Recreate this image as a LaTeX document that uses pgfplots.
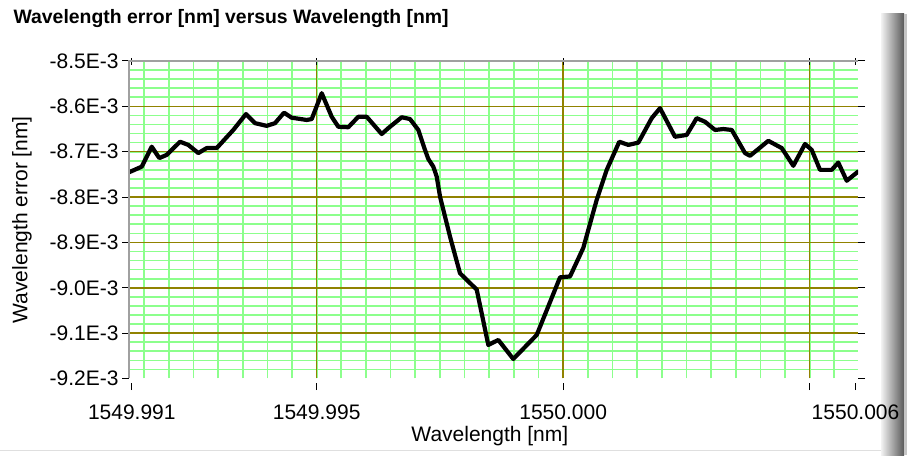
\documentclass[border=0pt]{standalone}
\usepackage{fontspec}
\setmainfont{Liberation Sans}
\usepackage{pgfplots}
\pgfplotsset{compat=1.18}
\definecolor{gminor}{RGB}{140,255,140}
\definecolor{gmajor}{RGB}{145,130,0}
\definecolor{framegray}{RGB}{160,160,160}
\pgfplotsset{
  common/.style={
    at={(129pt,76.5pt)}, anchor=south west,
    scale only axis, width=729pt, height=317.5pt,
    xmin=1.193, xmax=15.98, ymin=-9.2, ymax=-8.5,
    axis line style={draw=none},
  },
  gridonly/.style={
    common,
    major tick length=0pt, minor tick length=0pt,
    xticklabels={}, yticklabels={},
    xmajorgrids=true, ymajorgrids=true,
  }
}
\begin{document}
\begin{tikzpicture}[x=1pt,y=1pt]
\path[use as bounding box] (0,0) rectangle (907,455);
\fill[white] (0,0) rectangle (907,455);
\shade[left color=gray!10, right color=gray!70!black] (881,0) rectangle (904,441);
\fill[gray!45] (904,0) rectangle (907,441);
\draw[gray!25, line width=1pt] (0,5) -- (881,5);
% green grid layer
\begin{axis}[
  gridonly,
  xtick={1.5,2,2.5,3,3.5,4,4.5,5,5.5,6,6.5,7,7.5,8,8.5,9,9.5,10,10.5,11,11.5,12,12.5,13,13.5,14,14.5,15,15.5},
  ytick={-9.18,-9.16,-9.14,-9.12,-9.1,-9.08,-9.06,-9.04,-9.02,-9,-8.98,-8.96,-8.94,-8.92,-8.9,-8.88,-8.86,-8.84,-8.82,-8.8,-8.78,-8.76,-8.74,-8.72,-8.7,-8.68,-8.66,-8.64,-8.62,-8.6,-8.58,-8.56,-8.54,-8.52},
  major grid style={gminor, line width=1.7pt},
]
\end{axis}
% olive grid layer
\begin{axis}[
  gridonly,
  xtick={5,10,15},
  ytick={-9.1,-9,-8.9,-8.8,-8.7,-8.6},
  major grid style={gmajor, line width=1.5pt},
]
\end{axis}
% data, ticks and labels layer
\begin{axis}[
  common,
  name=ax,
  tick align=outside, major tick length=7pt, minor tick length=0pt,
  xtick={1.25,5,10,15,15.93},
  xticklabels={1549.991,1549.995,1550.000,{},1550.006},
  ytick={-9.2,-9.1,-9,-8.9,-8.8,-8.7,-8.6,-8.5},
  yticklabels={-9.2E-3,-9.1E-3,-9.0E-3,-8.9E-3,-8.8E-3,-8.7E-3,-8.6E-3,-8.5E-3},
  xtick style={draw=black, line width=1pt, yshift=-4.5pt},
  ytick style={draw=black, line width=1pt},
  ticklabel style={font=\fontsize{21}{25}\selectfont},
  xticklabel style={anchor=base, yshift=-33.5pt},
  yticklabel style={anchor=east},
  title={Wavelength error [nm] versus Wavelength [nm]},
  title style={at={(axis description cs:-0.1632,1)}, anchor=base west, yshift=31pt, font=\fontsize{19.4}{23}\selectfont\bfseries},
  xlabel={Wavelength [nm]},
  xlabel style={at={(axis description cs:0.495,0)}, anchor=base, yshift=-63pt, font=\fontsize{21}{25}\selectfont},
  ylabel={Wavelength error [nm]},
  ylabel style={at={(axis description cs:-0.147,0.5)}, anchor=center, font=\fontsize{21}{25}\selectfont},
]
\addplot[black, line width=4.2pt, line join=round, line cap=round] coordinates {
(1.20,-8.745) (1.451,-8.733) (1.654,-8.689) (1.808,-8.714) (1.958,-8.707)
(2.228,-8.678) (2.396,-8.685) (2.599,-8.703) (2.769,-8.692) (2.972,-8.692)
(3.309,-8.652) (3.566,-8.617) (3.749,-8.637) (3.986,-8.643) (4.155,-8.637)
(4.337,-8.614) (4.493,-8.625) (4.798,-8.630) (4.899,-8.628) (5.102,-8.571)
(5.305,-8.623) (5.439,-8.645) (5.642,-8.646) (5.844,-8.623) (6.015,-8.623)
(6.319,-8.661) (6.453,-8.648) (6.725,-8.624) (6.893,-8.628) (7.061,-8.652)
(7.197,-8.696) (7.264,-8.716) (7.366,-8.733) (7.435,-8.755) (7.502,-8.799)
(7.704,-8.887) (7.907,-8.968) (8.246,-9.004) (8.481,-9.126) (8.684,-9.115)
(8.988,-9.157) (9.463,-9.104) (9.936,-8.977) (10.139,-8.975) (10.408,-8.912)
(10.680,-8.806) (10.883,-8.740) (11.138,-8.678) (11.321,-8.685) (11.524,-8.680)
(11.796,-8.626) (11.964,-8.604) (12.268,-8.667) (12.505,-8.663) (12.708,-8.626)
(12.877,-8.634) (13.080,-8.652) (13.248,-8.650) (13.419,-8.652) (13.688,-8.703)
(13.790,-8.709) (14.161,-8.676) (14.433,-8.692) (14.668,-8.731) (14.905,-8.683)
(15.041,-8.696) (15.209,-8.740) (15.447,-8.740) (15.580,-8.724) (15.751,-8.764)
(15.98,-8.744)
};
\end{axis}
\draw[framegray, line width=1.5pt] (ax.south west) -- (ax.north west) -- (ax.north east);
\end{tikzpicture}
\end{document}
